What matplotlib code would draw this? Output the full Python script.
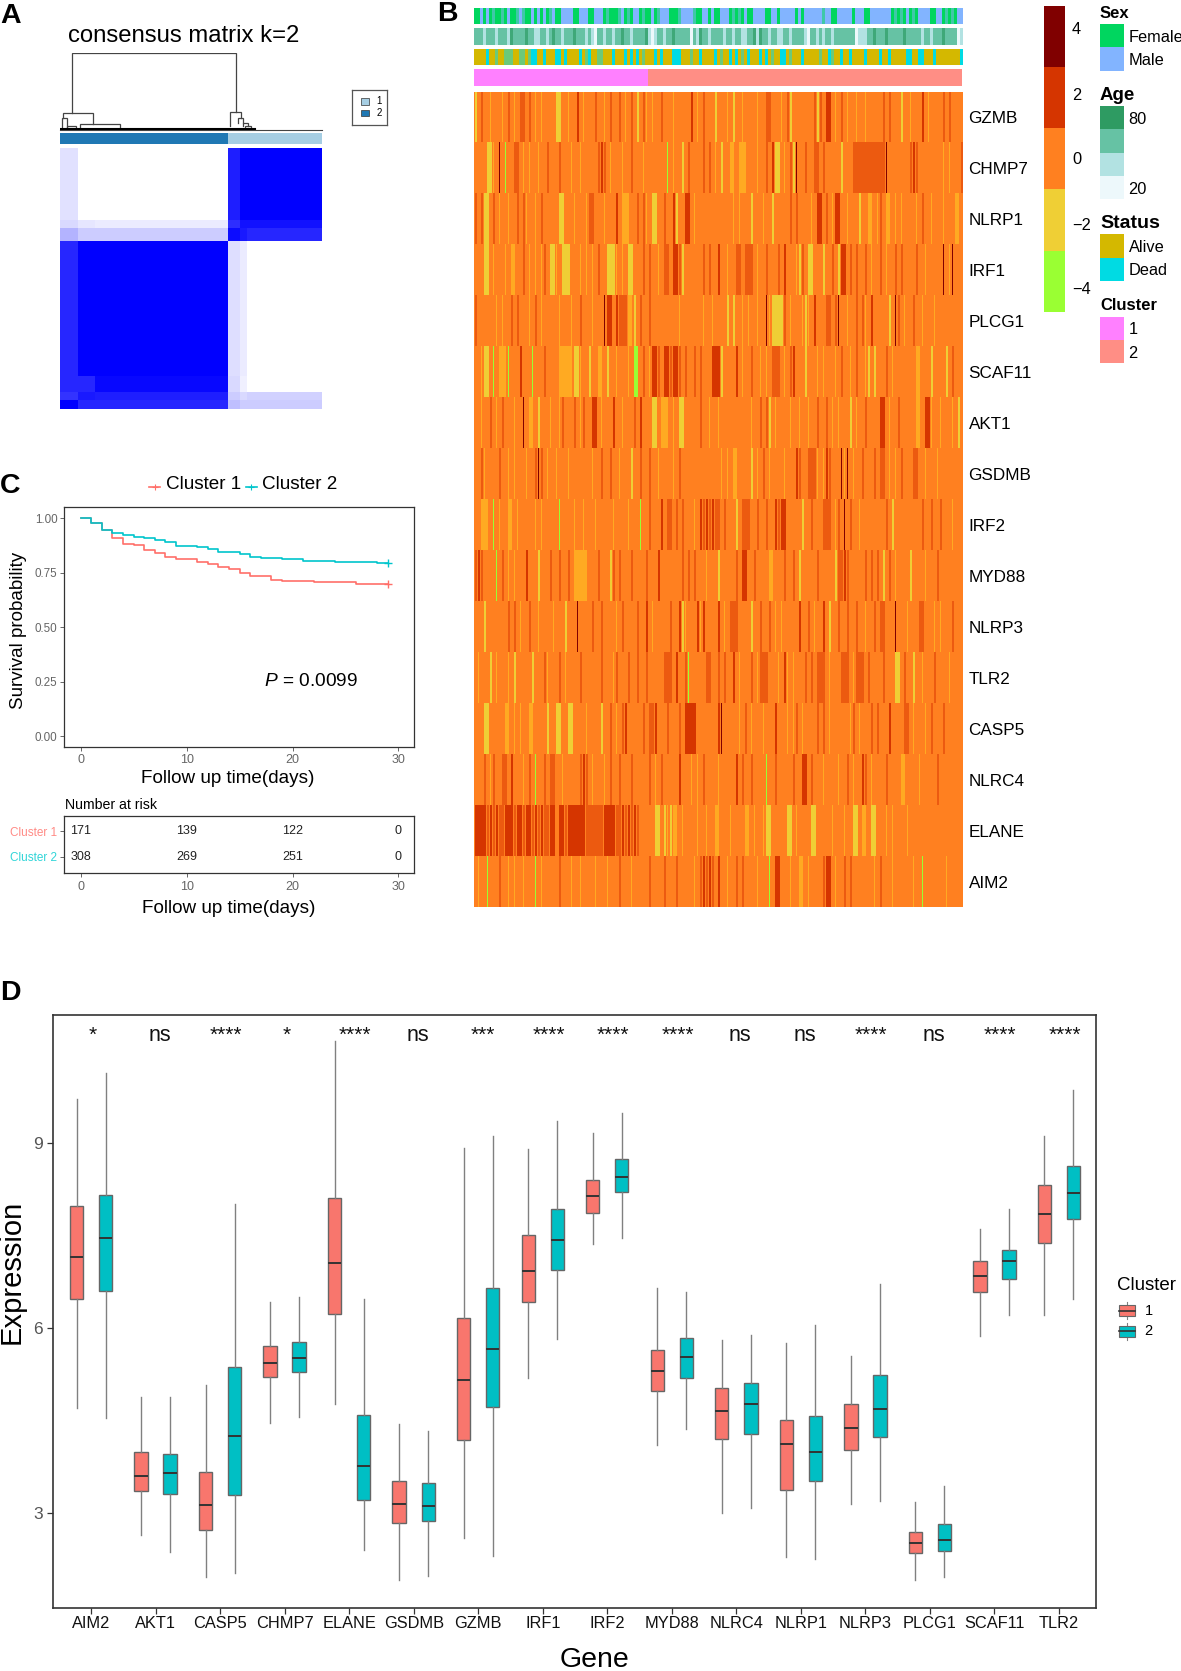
import numpy as np
import matplotlib
matplotlib.use('Agg')
import matplotlib.pyplot as plt
from matplotlib.colors import ListedColormap, LinearSegmentedColormap, BoundaryNorm, to_rgb
from matplotlib.patches import Rectangle

plt.rcParams['font.family'] = ['Liberation Sans', 'DejaVu Sans']
plt.rcParams['mathtext.fontset'] = 'custom'
plt.rcParams['mathtext.it'] = 'Liberation Sans:italic'
plt.rcParams['mathtext.rm'] = 'Liberation Sans'

W, H = 1181, 1671

# ---------- panel A data ----------
cons_cols = [0, 32, 64, 308, 329, 342, 479]
cons_rows = [0, 131, 146, 171, 418, 447, 462, 479]
cons_vals = [[.12, 0, 0, .88, 1, 1],
             [.15, .10, .08, .82, .93, .93],
             [.30, .20, .20, .95, .90, .85],
             [.85, 1, 1, .13, .08, 0],
             [.85, .85, .97, .15, .06, 0],
             [.80, .90, .88, .20, .15, .18],
             [1, .85, .85, .25, .20, .20]]
# left leaf, right leaf, merge height, left-leg end, right-leg end
dendro = [(22.5, 321, 1, .211, .226), (6, 61, .211, .145, .07), (3, 12, .145, .03, .03),
          (36.5, 110, .07, .02, .02), (12, 30, .04, .01, .01), (311, 330, .226, .05, .15),
          (325, 335, .15, .08, .08), (335, 344, .08, .04, .04), (338, 350, .04, .01, .01)]
cluster_n = [308, 171]

# ---------- panel B data ----------
genes_b = ['GZMB', 'CHMP7', 'NLRP1', 'IRF1', 'PLCG1', 'SCAF11', 'AKT1', 'GSDMB',
           'IRF2', 'MYD88', 'NLRP3', 'TLR2', 'CASP5', 'NLRC4', 'ELANE', 'AIM2']
hm_left = [
 "Y.r..y...y.r.y.rr.r.y.y....YY..y..R.y...r..y.r..r.y.r.Y.ry.y..r...y.....R.y.r...Y",
 "....YYy.D.G..rr.y.y..y..r...r...y..y.....rRr.y...y..r...y.......G.y..Y.r....r.r.y",
 "r.rYY.r.y..y..r.ry..y.r.....YY...y...yrr...y...R.yyy..r.ry.YY..r..RY..RR.y....",
 "...YY.y...y.yy..r.y.y.yr.YYy.YYY...y.y.y.r..YYYy.y.YY...r.r..y.rr.RRrY......r.r...",
 "r......y.y..r.r...y.r.y.....y...y..r...y...DRR.RrrryyY.r..r.........y.......y..y..",
 "..yYY.G.yyyG...R...G...r....yyyyyYYy..Y..yy.Y..y...y.GG.r.yRRr.RRrRRr.r..r.r...RR",
 "..y..r.y.r...y..D.yy.Y...y..yr...r.yr..RR.y...R..y...r.R...YY.yyy.y.YY.....r..y..",
 "..ry....r..y.y...y..rDr.y..y...y.......y..r..r..y...Y..r..r..y....y.r.........",
 "..yyy.G.y..yy.y.....y.y.....G....y..y...y.....y....y...G..r...R.rr.r.r...y.RrRrRr",
 "rRr....G.r.y.y...R...Y...r..r..r.yyyyy...r...Yr.r...r....r...R.......r.r.r...y...",
 "...Y.......r.r.y..r..y....y...Y...D....r..r....y.r....r..R.y.....r..RYy...RyR..",
 ".y...Y.y...y.Y.....Y...ry...r.y....r......r...yr...r..r..r.....rrr.R..rG.....rr..",
 "...YY.....yy.y.y..yy....Y..YY..YY....y....Y..r.y.rR.....r.rrR...r...r.RRRR",
 "...r.yr..rr.R...y.r.G..r.rr..y.....rRr.y...y.r..r...r.....r.y.r.....R...y.y.r",
 "RRRRrRrRrrRRRrRRrRRrRrRrrRR.RRrRRRRRRrrrrrrRRRRrrRrRrRr.....YY.YyYyy.y....y..y..y",
 ".y..G...r..y.y..y...G.y.....r...y..y....y...y...r...y.....r....r...r.....y.rRrRr",
]
hm_right = [
 "...y.Y..y....y..rr...y.rY.......rYr.RR.y.r.y..y..y.....r.r...Y..y...R.y....r.r",
 ".Y..yy.yyy...y..r.RYY.y.rYD..r..rr.r.....Y...rrrrrrrrrrrD.......rRr........y.y...r",
 ".....y.y...Y...y..Y.....r.r....y.RR.r.yRR..y...Y..yy.yr.yy.y.y....y.r..y...y...yy",
 "R..y..rr.rrr.y..r...r.R...yYr.YY...Y..r.YRR.r.r..r.y..r.y..r.r....r..y.....D.yD...",
 "...Y.Y..y.y..y..DyYYYYr.y...yYy.R...rr.rD..y..r.ry.R.....Y.Dr.y..r..y...y..",
 "RY....R.y..r..y.y.rrr.y.rR...Y...y.y...y.r..y.r..yY.Y...r.y.......yy...Y....Y.r..",
 "y..........y..r.rY.y....y..y..y..r..r.y.y...Y.y..r....RR.y..r.....yy.RRy..y...y.Y",
 ".y.y.yy....Y.y.r.y....y...Rr..rrry.yRr...DyD.y..r...r.rr.y.y.r...rr..y...y....",
 "r.r...Y.rrr..r..r..RrRR.....Y..r...rrr.yr.D.r..y........r.Y.........r..r..r...y.",
 "Y.....r.RR..r....yy...r..r.Y.....r.....YrrRr.....r.r.r.Y.r.y....Y....y...r",
 "R.y.rrr....Y..r..r.y.y.....R..r.y..R.Y..r..r..r..y..r.rr...D...y...rr...y.y...r",
 "r.r..R.y...r.yrrr...y.Ry.y...r.r.rrr.y...rrr.yrrr.r....r...YY.r..Y..y...r....y",
 "RD.....y.r.y...y...R...y.yr.y....r.r.y......yr.y...r.r...R....rr.y...y.r...r",
 "y.....R.r..r....G..r.....r..RR.r...y....y..r.y..Rr.y....r....yy....y.....r",
 "y...y....yy.y..yYY.....YY.y....YY.....y...y..YY.yy.YY...y.y....y.......",
 "R..y..r.r....y...G.RR...y..yy.y....rRR.y..r.r.......y.r...y......y..G.......y",
]
hm_colors = {'.': '#FF8020', 'y': '#FFAA22', 'Y': '#EFCF35', 'G': '#9AFF33',
             'r': '#EC5A10', 'R': '#D53500', 'D': '#800000'}

sex_track = ("FFMFMFmFFmFMFFmMmFFMFMFMFmMFFMMMMFFMMMFFMMMFmFFFmMFmFMMFmFFMFmMMMFFFmMMMMmFFMMFMFM",
             "FMMMFmFmFMFFMMMMFFMMFMMMMMFMFMMMMMMmMMFFMMMMMFMMMFFMMMMMMMFmFmFMFmFMMMMFFMMFmFmFM")
age_track = ("333233323332433334332233234332333433323213323323343323333421233233433333132433233233",
             "332332332233424332332233233332133232332333333312223343334333334333332332333433331244")
status_track = ("AAAADAAmAAmmmAAmmAmDDAADAAADDADAAAADAmDAAmmAAADAAADADADAmAAADADAAADDDAAAmAADAAAAD",
                "AmAADADAmADAAADADAmAADDAmAAADAAAAAmAADmAADAADAAAADAAAADAADAAAAADDAADDAAADAAAAAAAADA")
sex_colors = {'F': '#00D65F', 'M': '#82B4FF', 'm': '#3FC8A8'}
age_colors = {'1': '#EDF8FB', '2': '#B2E2E2', '3': '#66C2A4', '4': '#3FA878'}
status_colors = {'A': '#D4B800', 'D': '#00DBE3', 'm': '#6CC97A'}
cluster_colors = ['#FF80FF', '#FF8E85']
cbar_edges = [-4.7, -2.82, -0.94, 0.94, 2.82, 4.7]
cbar_colors = ['#9AFF33', '#EFCF35', '#FF8020', '#D53500', '#800000']
cbar_ticks = [-4, -2, 0, 2, 4]

# ---------- panel C data ----------
km_t2 = [0, 1, 2, 3, 4, 5, 6, 7, 8, 9, 11, 12, 13, 14, 15, 16, 17, 19, 20, 21, 23, 24, 28, 29]
km_s2 = [1, .977, .947, .933, .924, .913, .91, .902, .893, .872, .869, .861, .847, .844, .835,
         .823, .817, .814, .811, .806, .803, .798, .795, .795]
km_t1 = [0, 1, 2, 3, 4, 5, 6, 7, 8, 9, 11, 12, 13, 14, 15, 16, 18, 19, 22, 26, 29]
km_s1 = [1, .977, .947, .91, .881, .876, .853, .841, .823, .812, .80, .788, .777, .766, .748,
         .734, .719, .713, .707, .699, .699]
risk_times = [0, 10, 20, 30]
risk_c1 = [171, 139, 122, 0]
risk_c2 = [308, 269, 251, 0]

# ---------- panel D data ----------
genes = ['AIM2', 'AKT1', 'CASP5', 'CHMP7', 'ELANE', 'GSDMB', 'GZMB', 'IRF1', 'IRF2', 'MYD88',
         'NLRC4', 'NLRP1', 'NLRP3', 'PLCG1', 'SCAF11', 'TLR2']
c1_hi  = [9.72, 4.89, 5.08, 6.43, 10.66, 4.44, 8.93, 8.91, 9.17, 6.66, 5.81, 5.76, 5.55, 3.18, 7.62, 9.12]
c1_q3  = [7.98, 3.99, 3.67, 5.71, 8.12, 3.52, 6.16, 7.51, 8.41, 5.65, 5.03, 4.52, 4.77, 2.70, 7.09, 8.33]
c1_med = [7.16, 3.60, 3.13, 5.44, 7.06, 3.15, 5.16, 6.93, 8.15, 5.31, 4.66, 4.13, 4.39, 2.52, 6.85, 7.85]
c1_q1  = [6.48, 3.36, 2.72, 5.21, 6.23, 2.84, 4.19, 6.42, 7.88, 4.98, 4.20, 3.38, 4.03, 2.35, 6.59, 7.38]
c1_lo  = [4.70, 2.64, 1.97, 4.47, 4.77, 1.92, 2.59, 5.19, 7.37, 4.10, 3.01, 2.29, 3.15, 1.91, 5.87, 6.22]
c2_hi  = [10.15, 4.89, 8.02, 6.51, 6.48, 4.33, 9.12, 9.36, 9.49, 6.59, 5.90, 6.06, 6.72, 3.44, 7.93, 9.87]
c2_q3  = [8.17, 3.96, 5.37, 5.78, 4.60, 3.49, 6.65, 7.93, 8.75, 5.84, 5.11, 4.58, 5.25, 2.82, 7.27, 8.63]
c2_med = [7.46, 3.65, 4.26, 5.52, 3.76, 3.12, 5.66, 7.43, 8.46, 5.54, 4.78, 3.99, 4.69, 2.57, 7.09, 8.19]
c2_q1  = [6.61, 3.32, 3.30, 5.29, 3.21, 2.87, 4.73, 6.94, 8.22, 5.20, 4.28, 3.53, 4.24, 2.39, 6.80, 7.77]
c2_lo  = [4.55, 2.37, 2.03, 4.56, 2.40, 1.98, 2.30, 5.82, 7.46, 4.36, 3.08, 2.25, 3.20, 1.96, 6.22, 6.48]
sig_labels = ['*', 'ns', '****', '*', '****', 'ns', '***', '****', '****', '****', 'ns', 'ns', '****', 'ns', '****', '****']
sig_x = [1.02, 2.06, 3.09, 4.03, 5.09, 6.06, 7.07, 8.09, 9.09, 10.09, 11.05, 12.06, 13.09, 14.06, 15.09, 16.09]
RED, TEAL = '#F8766D', '#00BFC4'

fig = plt.figure(figsize=(W / 100, H / 100), dpi=100, facecolor='white')


def pax(l, t, r, b, **kw):
    return fig.add_axes([l / W, 1 - b / H, (r - l) / W, (b - t) / H], **kw)


def ftext(x, y, s, **kw):
    kw.setdefault('va', 'center')
    return fig.text(x / W, 1 - y / H, s, **kw)


def blank(ax):
    ax.set_xticks([]); ax.set_yticks([])
    for s in ax.spines.values():
        s.set_visible(False)


for (x, y, s) in [(0, 16, 'A'), (437, 14, 'B'), (0, 486, 'C'), (0, 993, 'D')]:
    ftext(x, y, s, fontsize=20.5, fontweight='bold', ha='left', color='black')

# ---------- A ----------
ftext(68, 36.5, 'consensus matrix k=2', fontsize=17.2, ha='left')
ax = pax(60, 53, 322, 129.5)
blank(ax); ax.set_xlim(0, 479); ax.set_ylim(0, 1); ax.patch.set_alpha(0)
for xl, xr, h, hl, hr in dendro:
    ax.plot([xl, xl, xr, xr], [hl, h, h, hr], color='#444444', lw=0.9, solid_joinstyle='miter')
ax.plot([0, 479], [0, 0], color='#444444', lw=0.8, clip_on=False)
ax.plot([0, 356], [0.008, 0.008], color='black', lw=1.5)

ax = pax(60, 133, 322, 144)
blank(ax); ax.set_xlim(0, sum(cluster_n)); ax.set_ylim(0, 1)
ax.barh(0.5, cluster_n[0], height=1, left=0, color='#1F78B4')
ax.barh(0.5, cluster_n[1], height=1, left=cluster_n[0], color='#A6CEE3')

ax = pax(60, 148.3, 322, 409.3)
blank(ax)
blues = LinearSegmentedColormap.from_list('wb', ['white', '#0000FF'])
ax.pcolormesh(cons_cols, cons_rows, np.array(cons_vals), cmap=blues, vmin=0, vmax=1)
ax.set_ylim(cons_rows[-1], 0); ax.set_xlim(0, cons_cols[-1])

ax = pax(352, 90, 387, 125)
ax.set_xticks([]); ax.set_yticks([]); ax.set_xlim(352, 387); ax.set_ylim(125, 90)
for s in ax.spines.values():
    s.set_color('#555555'); s.set_linewidth(0.9)
for yy, c, t in [(101.5, '#A6CEE3', '1'), (113, '#1F78B4', '2')]:
    ax.add_patch(Rectangle((361, yy - 3.3), 7.5, 6.6, fc=c, ec='#333333', lw=0.5))
    ax.text(379, yy, t, fontsize=7, ha='center', va='center')

# ---------- B ----------
def pad(a, b, fill):
    return a.ljust(81, fill)[:81] + b.ljust(82, fill)[:82]


def rgb_rows(rows, colors):
    return np.array([[to_rgb(colors[c]) for c in r] for r in rows])


def thin(row):
    # each cell is drawn as three sub-cells so that lone stripes stay narrow, as in the source
    out = []
    n = len(row)
    for i, c in enumerate(row):
        prev_same = i > 0 and row[i - 1] == c
        next_same = i < n - 1 and row[i + 1] == c
        out.append(c if prev_same else '.')
        out.append(c)
        out.append(c if (next_same or c in 'YrR') else '.')
    return ''.join(out)


ax = pax(474, 91.7, 962.5, 907)
blank(ax)
ax.imshow(rgb_rows([thin(pad(l, r, '.')) for l, r in zip(hm_left, hm_right)], hm_colors),
          aspect='auto', interpolation='nearest')
for i, g in enumerate(genes_b):
    ftext(968.5, 91.7 + 51 * (i + 0.5) + 1, g, fontsize=12.3, ha='left')


def track(t, b, strs, colors, fill):
    a = pax(474, t, 962.5, b)
    blank(a)
    a.imshow(rgb_rows([pad(strs[0], strs[1], fill)], colors), aspect='auto', interpolation='nearest')


track(8, 24.3, sex_track, sex_colors, 'M')
track(28.3, 44.7, age_track, age_colors, '3')
track(48.7, 65.3, status_track, status_colors, 'A')
ax = pax(474, 69, 962.5, 85.7)
blank(ax); ax.set_xlim(0, sum(cluster_n)); ax.set_ylim(0, 1)
ax.barh(0.5, cluster_n[1], height=1, left=0, color=cluster_colors[0])
ax.barh(0.5, cluster_n[0], height=1, left=cluster_n[1], color=cluster_colors[1])

ax = pax(1044, 6, 1064.6, 311.7)
blank(ax)
ax.pcolormesh([0, 1], cbar_edges, np.arange(5).reshape(5, 1), cmap=ListedColormap(cbar_colors),
              norm=BoundaryNorm(np.arange(-0.5, 5.5), 5))
ax.set_ylim(cbar_edges[0], cbar_edges[-1])
for v in cbar_ticks:
    ftext(1072, 160 - 32.5 * v, str(v).replace('-', '\u2212'), fontsize=11.8, ha='left')

legend_groups = [('Sex', 13.5, 12, 24, ['#00D65F', '#82B4FF'], [('Female', 0), ('Male', 1)]),
                 ('Age', 95, 13.5, 106, ['#2E9B62', '#66C2A4', '#B2E2E2', '#EDF8FB'], [('80', 0), ('20', 3)]),
                 ('Status', 223.5, 14, 234.3, ['#D4B800', '#00DBE3'], [('Alive', 0), ('Dead', 1)]),
                 ('Cluster', 305.5, 12, 316.7, ['#FF80FF', '#FF8E85'], [('1', 0), ('2', 1)])]
lax = pax(0, 0, W, H)
lax.set_xlim(0, W); lax.set_ylim(H, 0); blank(lax); lax.patch.set_alpha(0)
for title, ty, fs, top, cols, labs in legend_groups:
    ftext(1100, ty, title, fontsize=fs, fontweight='bold', ha='left')
    for i, c in enumerate(cols):
        lax.add_patch(Rectangle((1100, top + 23.3 * i), 23.7, 23.3, fc=c, ec='none'))
    for t, i in labs:
        ftext(1128.5, top + 23.3 * (i + 0.5) + 1.5, t, fontsize=11.8, ha='left')

# ---------- C ----------
ax = pax(64.3, 507.3, 414.3, 747.3)
ax.set_xlim(-1.55, 31.5); ax.set_ylim(-0.05, 1.05)
ax.step(km_t1, km_s1, where='post', color='#FF6F69', lw=1.2)
ax.step(km_t2, km_s2, where='post', color='#00C5CC', lw=1.2)
ax.plot([km_t1[-1]], [km_s1[-1]], marker='+', color='#FF6F69', ms=6, mew=1)
ax.plot([km_t2[-1]], [km_s2[-1]], marker='+', color='#00C5CC', ms=6, mew=1)
ax.set_xticks([0, 10, 20, 30]); ax.set_yticks([0, .25, .5, .75, 1])
ax.set_yticklabels(['0.00', '0.25', '0.50', '0.75', '1.00'])
ax.tick_params(colors='#666666', labelsize=8.4, length=3, width=0.7, pad=2)
ax.tick_params(axis='x', labelsize=9, pad=1.5)
for s in ax.spines.values():
    s.set_color('#333333'); s.set_linewidth(0.9)
ftext(19, 630, 'Survival probability', fontsize=13.5, rotation=90, ha='center')
ftext(228, 778.5, 'Follow up time(days)', fontsize=13.6, ha='center')
ftext(264, 681, r'$\mathit{P}$ = 0.0099', fontsize=13.8, ha='left')
ftext(166, 484.5, 'Cluster 1', fontsize=13.6, ha='left')
ftext(262.5, 484.5, 'Cluster 2', fontsize=13.6, ha='left')
lax.plot([149, 160], [486.7, 486.7], color='#FF6F69', lw=1.2)
lax.plot([154.5], [486.7], marker='+', color='#FF6F69', ms=5, mew=0.8)
lax.plot([245.5, 257], [486.7, 486.7], color='#00C5CC', lw=1.2)
lax.plot([251], [486.7], marker='+', color='#00C5CC', ms=5, mew=0.8)

ax = pax(64.3, 815.7, 414.3, 873.3)
ax.set_xlim(-1.55, 31.5); ax.set_ylim(0.37, 2.59)
for t, a, b in zip(risk_times, risk_c1, risk_c2):
    ax.text(t, 2, str(a), fontsize=9, ha='center', va='center', color='#222222')
    ax.text(t, 1, str(b), fontsize=9, ha='center', va='center', color='#222222')
ax.set_xticks([0, 10, 20, 30]); ax.set_yticks([1, 2])
ax.set_yticklabels(['Cluster 2', 'Cluster 1'], fontsize=8.5)
ax.get_yticklabels()[0].set_color('#2FD5D8'); ax.get_yticklabels()[1].set_color('#FF8A85')
ax.tick_params(axis='x', colors='#666666', labelsize=9, length=3, width=0.7, pad=2.5)
ax.tick_params(axis='y', length=3, width=0.7, color='#666666', pad=2)
for s in ax.spines.values():
    s.set_color('#333333'); s.set_linewidth(0.9)
ftext(65, 805, 'Number at risk', fontsize=10.2, ha='left')
ftext(228.7, 909, 'Follow up time(days)', fontsize=13.6, ha='center')

# ---------- D ----------
ax = pax(52.8, 1014.7, 1096.3, 1607.5)
ax.set_xlim(0.406, 16.58); ax.set_ylim(1.47, 11.09)


def stats(lo, q1, med, q3, hi):
    return [dict(whislo=a, q1=b, med=c, q3=d, whishi=e, fliers=[]) for a, b, c, d, e in zip(lo, q1, med, q3, hi)]


pos = np.arange(1, len(genes) + 1)
for st, off, col in [(stats(c1_lo, c1_q1, c1_med, c1_q3, c1_hi), -0.225, RED),
                     (stats(c2_lo, c2_q1, c2_med, c2_q3, c2_hi), 0.225, TEAL)]:
    ax.bxp(st, positions=pos + off, widths=0.208, patch_artist=True, showcaps=False, showfliers=False,
           boxprops=dict(facecolor=col, edgecolor='#666666', linewidth=1.0),
           whiskerprops=dict(color='#808080', linewidth=1.0),
           medianprops=dict(color='#333333', linewidth=1.4, solid_capstyle='butt'),
           manage_ticks=False)
ax.set_xticks(pos); ax.set_xticklabels(genes)
ax.set_yticks([3, 6, 9])
ax.tick_params(axis='x', labelsize=11.8, length=4, width=0.9, color='#333333', labelcolor='#111111', pad=2)
ax.tick_params(axis='y', labelsize=12.5, length=4, width=0.9, color='#333333', labelcolor='#555555', pad=3)
for s in ax.spines.values():
    s.set_color('#333333'); s.set_linewidth(1.2)
for x, s in zip(sig_x, sig_labels):
    ax.text(x, 10.66, s, fontsize=(15.5 if s == 'ns' else 15), ha='center', va='baseline', color='#111111')
ftext(12, 1271.7, 'Expression', fontsize=21, rotation=90, ha='center')
ftext(595, 1660, 'Gene', fontsize=20.5, ha='center')
ftext(1116.6, 1285.5, 'Cluster', fontsize=13.5, ha='left')
for yy, c, t in [(1310.6, RED, '1'), (1331, TEAL, '2')]:
    lax.plot([1126.5, 1126.5], [yy - 8.5, yy + 8.5], color='#808080', lw=0.8, zorder=1)
    lax.add_patch(Rectangle((1118.5, yy - 5.5), 16, 11, fc=c, ec='#666666', lw=0.8, zorder=2))
    lax.plot([1118.5, 1134.5], [yy, yy], color='#333333', lw=1.2, zorder=3)
    ftext(1144.6, yy, t, fontsize=10.5, ha='left')

fig.savefig('out.png', dpi=100, facecolor='white')
